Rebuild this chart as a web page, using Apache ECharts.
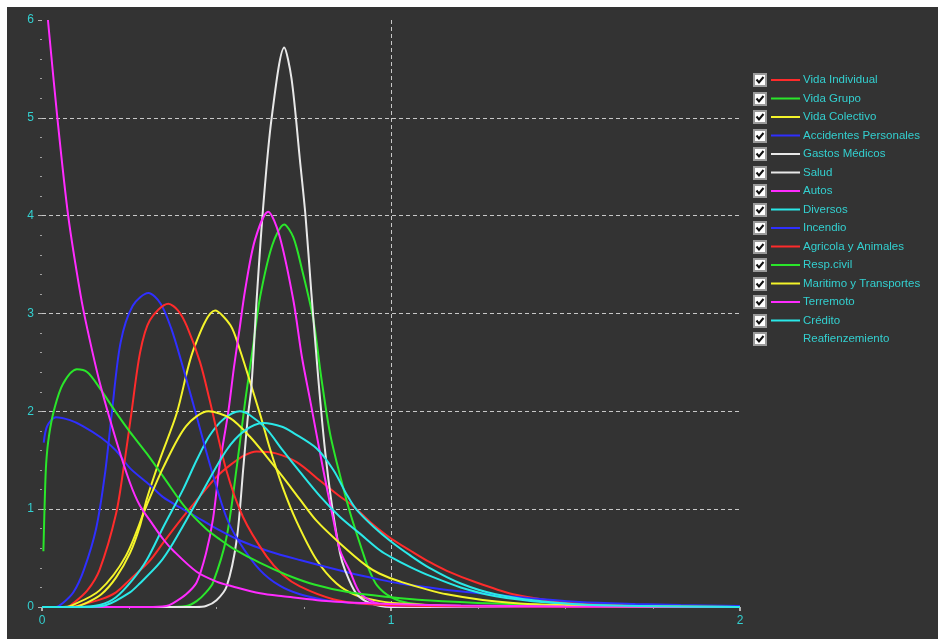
<!DOCTYPE html>
<html>
<head>
<meta charset="utf-8">
<script src="https://cdn.jsdelivr.net/npm/echarts@6/dist/echarts.min.js"></script>
<style>
html,body{margin:0;padding:0;background:#fff;}
#chart{width:938px;height:639px;}
</style>
</head>
<body>
<div id="chart"></div>
<script>
// ---- data (x, density) ----
const seriesNames = ["Vida Individual","Vida Grupo","Vida Colectivo","Accidentes Personales","Gastos Médicos","Salud","Autos","Diversos","Incendio","Agricola y Animales","Resp.civil","Maritimo y Transportes","Terremoto","Crédito","Reafienzemiento"];

const vidaIndividual = [[0,0],[0.08,0],[0.12,0.03],[0.17,0.08],[0.212,0.15],[0.252,0.28],[0.308,0.47],[0.348,0.66],[0.404,0.92],[0.443,1.09],[0.5,1.33],[0.539,1.45],[0.58,1.55],[0.615,1.59],[0.67,1.57],[0.73,1.48],[0.797,1.29],[0.85,1.14],[0.892,1.03],[0.94,0.87],[1.0,0.7],[1.054,0.58],[1.11,0.46],[1.16,0.37],[1.245,0.25],[1.35,0.13],[1.45,0.07],[1.54,0.04],[1.7,0.015],[2,0]];
const vidaGrupo = [[0,0],[0.35,0],[0.413,0.01],[0.443,0.06],[0.47,0.15],[0.49,0.25],[0.528,0.7],[0.558,1.43],[0.582,2.1],[0.605,2.67],[0.625,3.17],[0.66,3.7],[0.694,3.91],[0.72,3.78],[0.745,3.45],[0.777,2.95],[0.80,2.35],[0.825,1.78],[0.85,1.4],[0.883,0.96],[0.92,0.55],[0.935,0.4],[0.96,0.22],[1.0,0.1],[1.05,0.04],[1.15,0.01],[2,0]];
const vidaColectivo = [[0,0],[0.09,0],[0.126,0.04],[0.17,0.13],[0.212,0.3],[0.252,0.55],[0.28,0.82],[0.30,1.1],[0.337,1.5],[0.386,1.98],[0.434,2.63],[0.496,3.03],[0.54,2.88],[0.567,2.63],[0.605,2.2],[0.629,1.92],[0.653,1.62],[0.69,1.22],[0.73,0.87],[0.787,0.48],[0.844,0.24],[0.9,0.12],[0.968,0.06],[1.05,0.03],[1.2,0.01],[2,0]];
const accidentesPersonales = [[0.005,1.68],[0.015,1.85],[0.04,1.94],[0.08,1.91],[0.117,1.85],[0.17,1.73],[0.212,1.6],[0.252,1.42],[0.308,1.25],[0.348,1.12],[0.404,1.0],[0.443,0.92],[0.5,0.8],[0.567,0.68],[0.65,0.57],[0.739,0.48],[0.88,0.35],[0.968,0.28],[1.026,0.24],[1.15,0.18],[1.255,0.14],[1.4,0.09],[1.54,0.05],[1.7,0.03],[1.83,0.02],[2,0.01]];
const gastosMedicos = [[0,0],[0.44,0],[0.47,0.01],[0.5,0.07],[0.529,0.21],[0.558,0.69],[0.577,1.43],[0.59,1.95],[0.6,2.25],[0.615,3.14],[0.634,4.1],[0.658,5.0],[0.694,5.72],[0.715,5.4],[0.739,4.57],[0.755,4.0],[0.772,3.2],[0.792,2.32],[0.811,1.6],[0.83,1.06],[0.854,0.55],[0.868,0.38],[0.9,0.14],[0.94,0.04],[1.0,0],[2,0]];
const salud = [];
const autos = [[0,0],[0.3,0],[0.356,0.01],[0.376,0.04],[0.413,0.13],[0.443,0.25],[0.47,0.55],[0.49,0.9],[0.509,1.45],[0.534,2.0],[0.55,2.45],[0.566,2.84],[0.582,3.24],[0.61,3.75],[0.648,4.04],[0.68,3.8],[0.72,3.14],[0.745,2.55],[0.768,2.12],[0.806,1.4],[0.835,0.89],[0.854,0.58],[0.883,0.36],[0.91,0.15],[0.95,0.05],[1.0,0.01],[2,0]];
const diversos = [[0,0],[0.1,0],[0.165,0.02],[0.212,0.1],[0.26,0.28],[0.3,0.48],[0.348,0.82],[0.404,1.2],[0.443,1.5],[0.48,1.75],[0.52,1.92],[0.567,2.0],[0.596,1.96],[0.643,1.82],[0.69,1.6],[0.739,1.38],[0.797,1.13],[0.854,0.92],[0.911,0.75],[0.968,0.58],[1.0,0.51],[1.054,0.41],[1.11,0.32],[1.2,0.2],[1.3,0.11],[1.45,0.045],[1.6,0.015],[2,0]];
const incendio = [[0,0],[0.04,0],[0.06,0.04],[0.09,0.15],[0.12,0.38],[0.155,0.8],[0.18,1.35],[0.2,1.98],[0.225,2.7],[0.26,3.08],[0.305,3.21],[0.34,3.1],[0.37,2.85],[0.4,2.5],[0.433,2.08],[0.48,1.47],[0.528,0.92],[0.566,0.66],[0.624,0.38],[0.68,0.22],[0.739,0.13],[0.83,0.06],[0.93,0.03],[1.1,0.01],[2,0]];
const agricolaAnimales = [[0,0],[0.07,0],[0.09,0.04],[0.13,0.17],[0.165,0.38],[0.212,0.95],[0.235,1.45],[0.255,1.95],[0.281,2.6],[0.309,2.93],[0.362,3.1],[0.39,3.03],[0.415,2.87],[0.453,2.5],[0.48,2.12],[0.528,1.4],[0.576,0.92],[0.643,0.52],[0.69,0.33],[0.739,0.21],[0.834,0.08],[0.93,0.03],[1.1,0.01],[2,0]];
const respCivil = [[0.004,0.57],[0.008,1.1],[0.012,1.47],[0.02,1.75],[0.035,2.02],[0.06,2.28],[0.1,2.43],[0.13,2.4],[0.165,2.24],[0.21,2.0],[0.252,1.79],[0.3,1.57],[0.348,1.33],[0.41,1.02],[0.47,0.8],[0.51,0.69],[0.547,0.6],[0.625,0.45],[0.7,0.33],[0.78,0.23],[0.88,0.15],[1.0,0.1],[1.1,0.07],[1.3,0.035],[1.5,0.015],[2,0]];
const maritimoTransportes = [[0,0],[0.06,0],[0.088,0.02],[0.165,0.17],[0.24,0.52],[0.3,1.04],[0.348,1.43],[0.413,1.85],[0.477,2.0],[0.539,1.93],[0.596,1.74],[0.643,1.54],[0.69,1.33],[0.739,1.1],[0.787,0.88],[0.854,0.65],[0.93,0.42],[0.968,0.34],[1.026,0.26],[1.16,0.13],[1.35,0.04],[1.6,0.01],[2,0]];
const terremoto = [[0.017,6.0],[0.044,5.0],[0.075,4.0],[0.11,3.2],[0.13,2.84],[0.165,2.3],[0.212,1.71],[0.252,1.27],[0.28,1.04],[0.318,0.84],[0.348,0.69],[0.375,0.58],[0.443,0.36],[0.5,0.26],[0.547,0.21],[0.625,0.14],[0.69,0.11],[0.834,0.055],[1.0,0.03],[1.2,0.015],[1.5,0.005],[2,0]];
const credito = [[0,0],[0.12,0],[0.184,0.02],[0.252,0.15],[0.28,0.24],[0.337,0.45],[0.375,0.65],[0.452,1.13],[0.528,1.6],[0.58,1.8],[0.634,1.88],[0.69,1.84],[0.72,1.78],[0.787,1.62],[0.835,1.4],[0.873,1.15],[0.9,1.0],[0.95,0.82],[1.0,0.67],[1.054,0.53],[1.11,0.4],[1.2,0.24],[1.3,0.13],[1.45,0.05],[1.6,0.018],[2,0]];
const reafianzamiento = [];

const seriesData = [vidaIndividual, vidaGrupo, vidaColectivo, accidentesPersonales, gastosMedicos, salud, autos, diversos, incendio, agricolaAnimales, respCivil, maritimoTransportes, terremoto, credito, reafianzamiento];

// ---- styles ----
const RED = '#ff2b2b', GREEN = '#2ae62a', YELLOW = '#f4f42a', BLUE = '#2f2fff', WHITE = '#e8e8e8', MAGENTA = '#ff2bff', CYAN = '#2ae8e8';
const seriesColors = [RED, GREEN, YELLOW, BLUE, WHITE, WHITE, MAGENTA, CYAN, BLUE, RED, GREEN, YELLOW, MAGENTA, CYAN, 'rgba(0,0,0,0)'];
const TEXT_CYAN = '#33d0d0';

const chart = echarts.init(document.getElementById('chart'), null, {renderer: 'canvas'});

const legendTop = 73, rowPitch = 18.5;
const checkboxes = seriesNames.map((n, i) => {
  const cy = legendTop + 7 + i * rowPitch;
  return {
    type: 'group', x: 753, y: Math.round(cy - 7),
    children: [
      {type: 'rect', shape: {x: 0, y: 0, width: 14, height: 14}, style: {fill: '#9a9a9a'}},
      {type: 'rect', shape: {x: 2, y: 2, width: 10, height: 10}, style: {fill: '#ffffff'}},
      {type: 'polyline', shape: {points: [[3.5, 6.5], [6, 9.5], [10.5, 4]]}, style: {stroke: '#111', lineWidth: 2, fill: null}}
    ]
  };
});

const option = {
  backgroundColor: '#333333',
  animation: false,
  grid: {left: 42, right: 198, top: 20, bottom: 32, containLabel: false},
  legend: {
    orient: 'vertical', left: 771, top: legendTop, padding: 0,
    icon: 'rect', itemWidth: 29, itemHeight: 2, itemGap: 4.5,
    data: seriesNames,
    textStyle: {color: TEXT_CYAN, fontSize: 11.5, fontFamily: 'Liberation Sans, Arial, sans-serif', lineHeight: 14, padding: [0, 0, 0, -2]},
    selectedMode: false
  },
  xAxis: {
    type: 'value', min: 0, max: 2, interval: 1,
    axisLine: {show: false},
    axisTick: {show: true, length: 4, lineStyle: {color: '#b0b0b0', width: 2}},
    minorTick: {show: true, splitNumber: 4, length: 2, lineStyle: {color: '#a0a0a0', width: 1}},
    axisLabel: {color: TEXT_CYAN, fontSize: 12, margin: 8, fontFamily: 'Liberation Sans, Arial, sans-serif'},
    splitLine: {show: true, showMinLine: false, showMaxLine: false, lineStyle: {color: '#c8c8c8', type: [4, 3], width: 1}}
  },
  yAxis: {
    type: 'value', min: 0, max: 6, interval: 1,
    axisLine: {show: false},
    axisTick: {show: true, length: 4, lineStyle: {color: '#b0b0b0', width: 1}},
    minorTick: {show: true, splitNumber: 5, length: 2, lineStyle: {color: '#a0a0a0', width: 1}},
    axisLabel: {color: TEXT_CYAN, fontSize: 12, margin: 8, fontFamily: 'Liberation Sans, Arial, sans-serif'},
    splitLine: {show: true, showMinLine: false, showMaxLine: false, lineStyle: {color: '#c8c8c8', type: [4, 3], width: 1}}
  },
  graphic: [
    {type: 'rect', shape: {x: 0, y: 0, width: 938, height: 7}, style: {fill: '#ffffff'}, silent: true},
    {type: 'rect', shape: {x: 0, y: 0, width: 7, height: 639}, style: {fill: '#ffffff'}, silent: true}
  ].concat(checkboxes),
  series: seriesNames.map((name, i) => ({
    name: name,
    type: 'line',
    data: seriesData[i],
    smooth: 0.3,
    showSymbol: false,
    symbol: 'none',
    clip: true,
    color: seriesColors[i],
    lineStyle: {width: 2, color: seriesColors[i]},
    itemStyle: {color: seriesColors[i]}
  }))
};
chart.setOption(option);
</script>
</body>
</html>
